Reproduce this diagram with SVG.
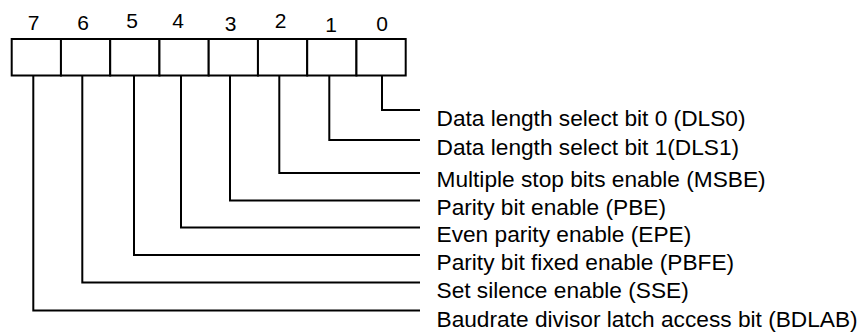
<svg xmlns="http://www.w3.org/2000/svg" width="860" height="333" viewBox="0 0 860 333">
<style>
.cell{fill:#fff;stroke:#000;stroke-width:2}
.num{font-family:"Liberation Sans",Arial,sans-serif;font-size:21px;fill:#000;text-anchor:middle}
.lbl{font-family:"Liberation Sans",Arial,sans-serif;font-size:22.7px;fill:#000}
.wire{fill:none;stroke:#000;stroke-width:2}
</style>
<rect width="860" height="333" fill="#fff"/>
<g id="register">
<rect class="cell" x="11.7" y="39" width="49.25" height="36.5"/>
<rect class="cell" x="60.95" y="39" width="49.25" height="36.5"/>
<rect class="cell" x="110.2" y="39" width="49.25" height="36.5"/>
<rect class="cell" x="159.45" y="39" width="49.25" height="36.5"/>
<rect class="cell" x="208.7" y="39" width="49.25" height="36.5"/>
<rect class="cell" x="257.95" y="39" width="49.25" height="36.5"/>
<rect class="cell" x="307.2" y="39" width="49.25" height="36.5"/>
<rect class="cell" x="356.45" y="39" width="49.25" height="36.5"/>
</g>
<g id="bit-numbers">
<text class="num" x="33.5" y="29.5">7</text>
<text class="num" x="83" y="29.5">6</text>
<text class="num" x="132" y="28.3">5</text>
<text class="num" x="178" y="28.3">4</text>
<text class="num" x="230.5" y="30.7">3</text>
<text class="num" x="280.5" y="28.3">2</text>
<text class="num" x="331" y="31.7">1</text>
<text class="num" x="382" y="30.7">0</text>
</g>
<g id="connectors">
<path class="wire" d="M382 75.5V110H420"/>
<path class="wire" d="M329.3 75.5V140H420"/>
<path class="wire" d="M279.3 75.5V173H420"/>
<path class="wire" d="M230 75.5V200.5H420"/>
<path class="wire" d="M181 75.5V227.5H420"/>
<path class="wire" d="M134 75.5V255H420"/>
<path class="wire" d="M82.3 75.5V282.5H420"/>
<path class="wire" d="M33.3 75.5V310.5H420"/>
</g>
<g id="bit0"><text class="lbl" x="436.5" y="126">Data length select bit 0 (DLS0)</text></g>
<g id="bit1"><text class="lbl" x="436.5" y="155">Data length select bit 1(DLS1)</text></g>
<g id="bit2"><text class="lbl" x="436.5" y="187">Multiple stop bits enable (MSBE)</text></g>
<g id="bit3"><text class="lbl" x="436.5" y="215">Parity bit enable (PBE)</text></g>
<g id="bit4"><text class="lbl" x="436.5" y="242">Even parity enable (EPE)</text></g>
<g id="bit5"><text class="lbl" x="436.5" y="270">Parity bit fixed enable (PBFE)</text></g>
<g id="bit6"><text class="lbl" x="436.5" y="298">Set silence enable (SSE)</text></g>
<g id="bit7"><text class="lbl" x="436.5" y="327">Baudrate divisor latch access bit (BDLAB)</text></g>
</svg>
